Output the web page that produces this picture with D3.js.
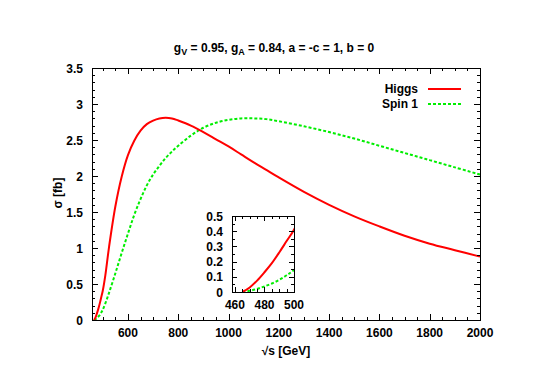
<!DOCTYPE html>
<html><head><meta charset="utf-8">
<script src="https://cdn.jsdelivr.net/npm/d3@7"></script>
<style>
body{margin:0;background:#fff;}
text{font-family:"Liberation Sans",Arial,Helvetica,sans-serif;font-weight:bold;font-size:12px;fill:#000;}
</style></head>
<body><svg id="c" width="545" height="385"></svg>
<script>
const energies = [465,470,475,480,485,490,495,500,510,525,550,575,600,625,650,675,700,725,750,775,800,850,900,950,1000,1050,1100,1150,1200,1300,1400,1500,1600,1700,1800,1900,2000];
const higgs   = [0,0.03,0.075,0.13,0.19,0.26,0.335,0.41,0.62,1.02,1.58,1.99,2.29,2.49,2.63,2.72,2.77,2.80,2.81,2.80,2.77,2.7,2.61,2.51,2.41,2.3,2.19,2.085,1.98,1.78,1.6,1.44,1.3,1.17,1.06,0.97,0.88];
const spin1   = [0,0.008,0.02,0.037,0.056,0.08,0.11,0.145,0.23,0.38,0.65,0.93,1.2,1.46,1.68,1.87,2.02,2.14,2.25,2.34,2.42,2.56,2.67,2.74,2.78,2.8,2.8,2.79,2.76,2.69,2.61,2.52,2.42,2.32,2.22,2.12,2.02];
const xTicks = [600,800,1000,1200,1400,1600,1800,2000];
const yTicks = [0,0.5,1,1.5,2,2.5,3,3.5];
const xTicksInset = [460,480,500];
const yTicksInset = [0,0.1,0.2,0.3,0.4,0.5];
const seriesNames = ["Higgs","Spin 1"];

const svg = d3.select("#c");
const red = "#ff0000", green = "#00ee00";

function panel(g, x, y, xt, yt, xMinorStep, yMinorStep, majorLen, minorLen, fmtY) {
  const [x0,x1] = x.range(), [y0,y1] = y.range();
  const xd = x.domain(), yd = y.domain();
  const xm = d3.range(Math.ceil(xd[0]/xMinorStep)*xMinorStep, xd[1]+1e-9, xMinorStep);
  const ym = d3.range(0, yd[1]+1e-9, yMinorStep);
  const tg = g.append("g").attr("stroke","#000").attr("stroke-width",1);
  xm.forEach(v=>{
    const major = xt.some(t=>Math.abs(t-v)<1e-6);
    const L = major?majorLen:minorLen, px = Math.round(x(v))+0.5;
    tg.append("line").attr("x1",px).attr("x2",px).attr("y1",y0).attr("y2",y0-L);
    tg.append("line").attr("x1",px).attr("x2",px).attr("y1",y1).attr("y2",y1+L);
  });
  ym.forEach(v=>{
    const major = yt.some(t=>Math.abs(t-v)<1e-6);
    const L = major?majorLen:minorLen, py = Math.round(y(v))+0.5;
    tg.append("line").attr("x1",x0).attr("x2",x0+L).attr("y1",py).attr("y2",py);
    tg.append("line").attr("x1",x1).attr("x2",x1-L).attr("y1",py).attr("y2",py);
  });
  g.append("rect").attr("x",x0+0.5).attr("y",y1+0.5).attr("width",x1-x0).attr("height",y0-y1)
   .attr("fill","none").attr("stroke","#000").attr("stroke-width",1);
  xt.forEach(v=>g.append("text").attr("x",x(v)).attr("y",y0+17).attr("text-anchor","middle").text(v));
  yt.forEach(v=>g.append("text").attr("x",x0-9).attr("y",y(v)+4.5).attr("text-anchor","end").text(fmtY(v)));
}

function curves(g, x, y, clipId) {
  const pts = energies.map((e,i)=>({e, h:higgs[i], s:spin1[i]}));
  const [x0,x1] = x.range(), [y0,y1] = y.range();
  svg.append("clipPath").attr("id",clipId).append("rect").attr("x",x0).attr("y",y1-2).attr("width",x1-x0+1).attr("height",y0-y1+2);
  const cg = g.append("g").attr("clip-path",`url(#${clipId})`);
  const cv = d3.curveCatmullRom.alpha(0.5);
  const lh = d3.line().x(d=>x(d.e)).y(d=>y(d.h)).curve(cv);
  const ls = d3.line().x(d=>x(d.e)).y(d=>y(d.s)).curve(cv);
  cg.append("path").attr("d",ls(pts)).attr("fill","none").attr("stroke",green).attr("stroke-width",2).attr("stroke-dasharray","3,2");
  cg.append("path").attr("d",lh(pts)).attr("fill","none").attr("stroke",red).attr("stroke-width",2);
}

// main
const x = d3.scaleLinear().domain([457,2000]).range([92,480]);
const y = d3.scaleLinear().domain([0,3.5]).range([320,68]);
const gm = svg.append("g");
curves(gm, x, y, "clipMain");
panel(gm, x, y, xTicks, yTicks, 50, 0.1, 6, 3, v=>String(v));

// legend
const leg = svg.append("g");
[[seriesNames[0],red,null,89],[seriesNames[1],green,"3,2",104]].forEach(([n,c,d,ly])=>{
  leg.append("text").attr("x",418).attr("y",ly+4).attr("text-anchor","end").text(n);
  leg.append("line").attr("x1",428).attr("x2",461).attr("y1",ly).attr("y2",ly)
    .attr("stroke",c).attr("stroke-width",2).attr("stroke-dasharray",d);
});

// inset
const xi = d3.scaleLinear().domain([458,500]).range([232,294]);
const yi = d3.scaleLinear().domain([0,0.5]).range([292,216]);
const gi = svg.append("g");
curves(gi, xi, yi, "clipInset");
panel(gi, xi, yi, xTicksInset, yTicksInset, 5, 0.05, 5, 3, v=>String(v));

// titles
const title = svg.append("text").attr("x",274).attr("y",52).attr("text-anchor","middle");
title.append("tspan").text("g");
title.append("tspan").attr("dy",3).attr("font-size","9px").text("V");
title.append("tspan").attr("dy",-3).text(" = 0.95, g");
title.append("tspan").attr("dy",3).attr("font-size","9px").text("A");
title.append("tspan").attr("dy",-3).text(" = 0.84, a = -c = 1, b = 0");

svg.append("text").attr("x",286).attr("y",355).attr("text-anchor","middle").text("\u221As [GeV]");
svg.append("text").attr("transform","translate(62,193) rotate(-90)").attr("text-anchor","middle").text("\u03C3 [fb]");
</script></body></html>
